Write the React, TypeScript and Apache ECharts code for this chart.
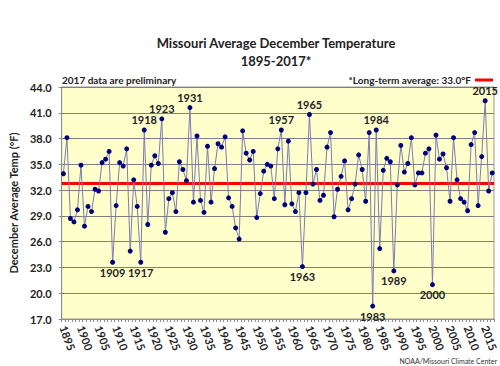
import React, { useEffect, useRef } from 'react';
import * as echarts from 'echarts';

const years: string[] = Array.from({ length: 123 }, (_, i) => String(1895 + i));

const temps: number[] = [
  33.9, 38.1, 28.7, 28.3, 29.7, 34.9, 27.8, 30.1, 29.5, 32.1, // 1895-1904
  31.9, 35.2, 35.6, 36.5, 23.6, 30.2, 35.2, 34.8, 36.8, 24.9, // 1905-1914
  33.2, 30.1, 23.6, 39.0, 28.0, 34.9, 36.0, 35.1, 40.3, 27.1, // 1915-1924
  31.0, 31.7, 29.5, 35.3, 34.4, 33.1, 41.6, 30.6, 38.3, 30.8, // 1925-1934
  29.4, 37.1, 30.6, 34.5, 37.4, 37.0, 38.2, 31.1, 30.1, 27.6, // 1935-1944
  26.3, 38.9, 36.3, 35.5, 36.5, 28.8, 31.6, 34.2, 35.0, 34.8, // 1945-1954
  31.0, 36.8, 39.0, 30.3, 37.7, 30.4, 29.5, 31.7, 23.1, 31.7, // 1955-1964
  40.8, 32.7, 34.4, 30.8, 31.4, 37.0, 38.7, 28.9, 32.1, 33.6, // 1965-1974
  35.4, 29.7, 31.0, 32.7, 36.1, 34.4, 30.7, 38.7, 18.5, 39.0, // 1975-1984
  25.2, 34.3, 35.7, 35.3, 22.6, 32.6, 37.2, 34.1, 35.1, 38.1, // 1985-1994
  32.6, 34.0, 34.0, 36.3, 36.8, 21.0, 38.4, 35.6, 36.2, 34.6, // 1995-2004
  30.7, 38.1, 33.2, 31.0, 30.6, 29.6, 37.3, 38.7, 30.2, 35.9, // 2005-2014
  42.4, 31.9, 34.0, // 2015-2017
];

const labelAbove: string[] = ['1918', '1923', '1931', '1957', '1965', '1984', '2015'];
const labelBelow: string[] = ['1909', '1917', '1963', '1983', '1989', '2000'];

const averageLine = 32.8;
const yMin = 17;
const yMax = 44;
const yStep = 3;

const FONT = 'Lato, "Open Sans", sans-serif';

export default function App() {
  const ref = useRef<HTMLDivElement>(null);

  useEffect(() => {
    document.body.style.margin = '0';
    if (!ref.current) return;
    const chart = echarts.init(ref.current, undefined, { renderer: 'svg' });

    const seriesData = temps.map((v, i) => {
      const y = years[i];
      if (labelAbove.includes(y)) {
        return { value: v, label: { show: true, position: 'top', distance: 2, formatter: y } };
      }
      if (labelBelow.includes(y)) {
        return { value: v, label: { show: true, position: 'bottom', distance: 2, formatter: y } };
      }
      return { value: v };
    });

    chart.setOption({
      animation: false,
      backgroundColor: '#ffffff',
      textStyle: { fontFamily: FONT },
      grid: {
        left: 57,
        right: 3,
        top: 87,
        bottom: 47,
        show: true,
        backgroundColor: '#FFFFCC',
        borderColor: '#9a9a9a',
        borderWidth: 1,
      },
      xAxis: {
        type: 'category',
        data: years,
        boundaryGap: true,
        axisLine: { show: true, lineStyle: { color: '#8c8c8c', width: 1 } },
        axisTick: { show: true, interval: 0, length: 3, lineStyle: { color: '#8c8c8c' } },
        axisLabel: {
          interval: (idx: number) => idx % 5 === 0,
          rotate: -70,
          margin: 7,
          fontSize: 11,
          fontWeight: 'bold',
          color: '#222',
          fontFamily: FONT,
        },
        splitLine: { show: false },
      },
      yAxis: {
        type: 'value',
        min: yMin,
        max: yMax,
        interval: yStep,
        name: 'December Average Temp (°F)',
        nameLocation: 'middle',
        nameGap: 37,
        nameTextStyle: { fontSize: 11, fontWeight: 'bold', color: '#222', fontFamily: FONT },
        axisLine: { show: true, lineStyle: { color: '#8c8c8c' } },
        axisTick: { show: true, length: 3, inside: false, lineStyle: { color: '#8c8c8c' } },
        axisLabel: {
          formatter: (v: number) => v.toFixed(1),
          fontSize: 11,
          fontWeight: 'bold',
          color: '#222',
          margin: 10,
          fontFamily: FONT,
        },
        splitLine: { show: true, lineStyle: { color: '#7f7f7f', width: 1 } },
      },
      series: [
        {
          type: 'line',
          data: seriesData,
          symbol: 'circle',
          symbolSize: 5,
          showSymbol: true,
          showAllSymbol: true,
          lineStyle: { color: '#7a7db0', width: 1 },
          itemStyle: { color: '#00007a' },
          label: {
            fontSize: 11,
            fontWeight: 'bold',
            color: '#222',
            fontFamily: FONT,
          },
          markLine: {
            silent: true,
            symbol: ['none', 'none'],
            label: { show: false },
            lineStyle: { color: '#ff0000', width: 3, type: 'solid' },
            data: [{ yAxis: averageLine }],
            z: 1,
          },
          z: 3,
        },
      ],
      graphic: [
        {
          type: 'text',
          x: 276,
          y: 43,
          style: {
            text: 'Missouri Average December Temperature',
            font: `bold 13px ${FONT}`,
            fill: '#222',
            textAlign: 'center',
            textVerticalAlign: 'middle',
          },
        },
        {
          type: 'text',
          x: 276,
          y: 61,
          style: {
            text: '1895-2017*',
            font: `bold 13px ${FONT}`,
            fill: '#222',
            textAlign: 'center',
            textVerticalAlign: 'middle',
          },
        },
        {
          type: 'text',
          x: 62,
          y: 80,
          style: {
            text: '2017 data are preliminary',
            font: `bold 10px ${FONT}`,
            fill: '#222',
            textAlign: 'left',
            textVerticalAlign: 'middle',
          },
        },
        {
          type: 'text',
          x: 471,
          y: 80,
          style: {
            text: '*Long-term average: 33.0°F',
            font: `bold 10px ${FONT}`,
            fill: '#222',
            textAlign: 'right',
            textVerticalAlign: 'middle',
          },
        },
        {
          type: 'line',
          shape: { x1: 475, y1: 80, x2: 493, y2: 80 },
          style: { stroke: '#ff0000', lineWidth: 3 },
        },
        {
          type: 'text',
          x: 497,
          y: 361,
          style: {
            text: 'NOAA/Missouri Climate Center',
            font: `7px ${FONT}`,
            fill: '#333',
            textAlign: 'right',
            textVerticalAlign: 'middle',
          },
        },
      ],
    });

    return () => {
      chart.dispose();
    };
  }, []);

  return <div ref={ref} style={{ width: 500, height: 366 }} />;
}
